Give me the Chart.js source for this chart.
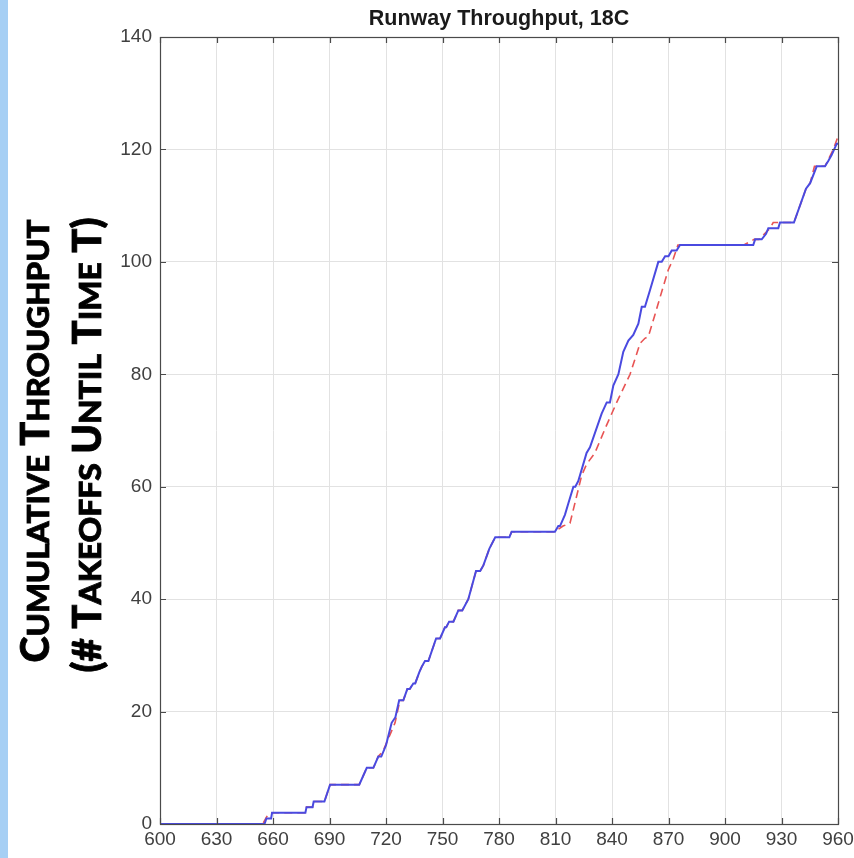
<!DOCTYPE html>
<html>
<head>
<meta charset="utf-8">
<title>Runway Throughput, 18C</title>
<script src="https://cdn.jsdelivr.net/npm/chart.js@4.4.0/dist/chart.umd.min.js"></script>
<style>
  html, body { margin: 0; padding: 0; background: #ffffff; }
  #wrap { width: 854px; height: 858px; position: relative; }
</style>
</head>
<body>
<div id="wrap"><canvas id="c" width="854" height="858"></canvas></div>
<script>
// Time axis (minutes) and cumulative takeoff counts
const xTicks = [600, 630, 660, 690, 720, 750, 780, 810, 840, 870, 900, 930, 960];
const yTicks = [0, 20, 40, 60, 80, 100, 120, 140];

// Observed cumulative throughput (solid blue)
const actualTime = [600, 655.5, 656.5, 659, 659.5, 677.2, 677.8, 681, 681.6, 687.3, 690.3, 705.8, 709.8, 713.3,
  715.9, 717.5, 720, 723, 725, 727, 729.2, 731.3, 732.6, 734.5, 735.5, 737.7, 739, 740.7, 742.5, 746.6, 748.7,
  751.3, 752, 753.5, 755.8, 758.4, 760.5, 763.7, 767.8, 770, 771.7, 774.9, 778, 785.5, 786.7, 809.7, 811.5,
  812.4, 815, 816.8, 819.5, 820.5, 822.1, 826.5, 828.3, 834.5, 837.2, 838.9, 840.7, 843.4, 846, 848.7, 851.3,
  854, 855.8, 857.5, 860.2, 864.6, 866.4, 868.2, 870, 871.7, 874.3, 876.1, 915, 916, 919.5, 921.8, 923, 928.3,
  929.2, 936.6, 943, 945.2, 948.7, 953.1, 954.9, 956.6, 959.3, 960];
const actualCount = [0, 0, 1, 1, 2, 2, 3, 3, 4, 4, 7, 7, 10, 10,
  12, 12, 14, 18, 19, 22, 22, 24, 24, 25, 25, 27, 28, 29, 29, 33, 33,
  35, 35, 36, 36, 38, 38, 40, 45, 45, 46, 49, 51, 51, 52, 52, 53,
  53, 55, 57, 60, 60, 61, 66, 67, 73, 75, 75, 78, 80, 84, 86, 87,
  89, 92, 92, 95, 100, 100, 101, 101, 102, 102, 103, 103, 104, 104, 105, 106, 106,
  107, 107, 113, 114, 117, 117, 118, 119, 121, 121];

// Predicted cumulative throughput (dashed red)
const modelTime = [600, 654.5, 657, 659.5, 677.2, 677.8, 681, 681.6, 687.3, 690.3, 705.8, 709.8, 713.3, 715.9,
  718.5, 721, 724.8, 727.4, 729.2, 731.3, 732.6, 734.5, 735.5, 737.7, 739, 740.7, 742.5, 746.6, 748.7, 751.3,
  752, 753.5, 755.8, 758.4, 760.5, 763.7, 767.8, 770, 771.7, 774.9, 778, 785.5, 786.7, 809.7, 814, 817.7,
  823.9, 826.5, 830.9, 837.2, 842.5, 849.6, 854.9, 857.5, 859.3, 862.8, 866.4, 869.9, 872.6, 875, 910, 915.5,
  918, 921, 924, 925.6, 936.6, 943, 945.2, 947.5, 953.1, 957.5, 960];
const modelCount = [0, 0, 1.5, 2, 2, 3, 3, 4, 4, 7, 7, 10, 10, 12,
  13, 15, 18, 22, 22, 24, 24, 25, 25, 27, 28, 29, 29, 33, 33, 35,
  35, 36, 36, 38, 38, 40, 45, 45, 46, 49, 51, 51, 52, 52, 53, 53.5,
  62, 64, 66, 71, 75, 80, 85.5, 86.4, 86.7, 90.6, 94.7, 98.6, 100.6, 103, 103, 104,
  104, 105, 106, 107, 107, 113, 114, 117, 117, 120, 122.3];

const toPoints = (xs, ys) => xs.map((x, i) => ({ x: x, y: ys[i] }));

const TICK_FONT = { family: "'Liberation Sans', Arial, sans-serif", size: 19 };
const TICK_COLOR = '#404040';
const BOX_COLOR = '#4a4a4a';

// Page background and the pale blue strip on the left edge
const backdrop = {
  id: 'backdrop',
  beforeDraw(chart) {
    const ctx = chart.ctx;
    ctx.save();
    ctx.fillStyle = '#ffffff';
    ctx.fillRect(0, 0, chart.width, chart.height);
    ctx.fillStyle = '#a6cff4';
    ctx.fillRect(0, 0, 8, chart.height);
    ctx.restore();
  }
};

// Axes box with inward tick marks on all four sides
const axesBox = {
  id: 'axesBox',
  afterDraw(chart) {
    const ctx = chart.ctx;
    const a = chart.chartArea;
    const xs = chart.scales.x, ys = chart.scales.y;
    const len = 6;
    ctx.save();
    ctx.strokeStyle = BOX_COLOR;
    ctx.lineWidth = 1.2;
    ctx.beginPath();
    xTicks.forEach(v => {
      const px = Math.round(xs.getPixelForValue(v)) + 0.5;
      ctx.moveTo(px, a.bottom); ctx.lineTo(px, a.bottom - len);
      ctx.moveTo(px, a.top); ctx.lineTo(px, a.top + len);
    });
    yTicks.forEach(v => {
      const py = Math.round(ys.getPixelForValue(v)) + 0.5;
      ctx.moveTo(a.left, py); ctx.lineTo(a.left + len, py);
      ctx.moveTo(a.right, py); ctx.lineTo(a.right - len, py);
    });
    ctx.stroke();
    ctx.strokeRect(Math.round(a.left) + 0.5, Math.round(a.top) + 0.5,
      Math.round(a.right - a.left), Math.round(a.bottom - a.top));
    ctx.restore();
  }
};

// Title and the small-caps vertical axis caption
function smallCapsRuns(text, big, small) {
  const runs = [];
  for (const ch of text) {
    const lower = ch !== ch.toUpperCase();
    const size = lower ? small : big;
    const glyph = ch.toUpperCase();
    const last = runs[runs.length - 1];
    if (last && last.size === size) last.text += glyph;
    else runs.push({ text: glyph, size: size });
  }
  return runs;
}

function drawSmallCapsVertical(ctx, text, baselineX, centerY, big, small, targetLen) {
  const family = "Lato, 'Open Sans', sans-serif";
  const runs = smallCapsRuns(text, big, small);
  let total = 0;
  runs.forEach(r => {
    ctx.font = '900 ' + r.size + 'px ' + family;
    r.w = ctx.measureText(r.text).width;
    total += r.w;
  });
  const sx = targetLen / total;
  ctx.save();
  ctx.translate(baselineX, centerY);
  ctx.rotate(-Math.PI / 2);
  ctx.scale(sx, 1);
  ctx.fillStyle = '#000000';
  ctx.strokeStyle = '#000000';
  ctx.lineWidth = 0.8;
  ctx.textBaseline = 'alphabetic';
  ctx.textAlign = 'left';
  let x = -total / 2;
  runs.forEach(r => {
    ctx.font = '900 ' + r.size + 'px ' + family;
    ctx.fillText(r.text, x, 0);
    ctx.strokeText(r.text, x, 0);
    x += r.w;
  });
  ctx.restore();
}

const captions = {
  id: 'captions',
  afterDraw(chart) {
    const ctx = chart.ctx;
    const a = chart.chartArea;
    ctx.save();
    ctx.fillStyle = '#1a1a1a';
    ctx.font = "bold 21.5px 'Liberation Sans', Arial, sans-serif";
    ctx.textAlign = 'center';
    ctx.textBaseline = 'alphabetic';
    ctx.fillText('Runway Throughput, 18C', (a.left + a.right) / 2, 25);
    ctx.restore();
    drawSmallCapsVertical(ctx, 'Cumulative Throughput', 49, 441, 39, 31, 443);
    drawSmallCapsVertical(ctx, '(# Takeoffs Until Time T)', 101, 445, 39, 31, 455);
  }
};

new Chart(document.getElementById('c'), {
  type: 'line',
  data: {
    datasets: [
      {
        label: 'Actual',
        data: toPoints(actualTime, actualCount),
        borderColor: '#4a4ae0',
        borderWidth: 2,
        pointRadius: 0,
        tension: 0,
        fill: false
      },
      {
        label: 'Predicted',
        data: toPoints(modelTime, modelCount),
        borderColor: '#e85454',
        borderWidth: 1.6,
        borderDash: [8, 5],
        pointRadius: 0,
        tension: 0,
        fill: false
      }
    ]
  },
  options: {
    responsive: false,
    animation: false,
    events: [],
    layout: { padding: { top: 37, right: 16, left: 0, bottom: 0 } },
    plugins: {
      legend: { display: false },
      title: { display: false },
      tooltip: { enabled: false }
    },
    scales: {
      x: {
        type: 'linear',
        min: 600,
        max: 960,
        afterFit(scale) {
          scale.height = 34;
          scale.paddingLeft = 0;
          scale.paddingRight = 0;
        },
        afterBuildTicks(scale) { scale.ticks = xTicks.map(v => ({ value: v })); },
        ticks: {
          autoSkip: false,
          maxRotation: 0,
          padding: 4,
          color: TICK_COLOR,
          font: TICK_FONT
        },
        grid: { color: '#e2e2e2', lineWidth: 1, drawTicks: false },
        border: { display: false }
      },
      y: {
        type: 'linear',
        min: 0,
        max: 140,
        afterFit(scale) {
          scale.width = 160;
          scale.paddingTop = 0;
          scale.paddingBottom = 0;
        },
        afterBuildTicks(scale) { scale.ticks = yTicks.map(v => ({ value: v })); },
        ticks: {
          autoSkip: false,
          padding: 8,
          color: TICK_COLOR,
          font: TICK_FONT
        },
        grid: { color: '#e2e2e2', lineWidth: 1, drawTicks: false },
        border: { display: false }
      }
    }
  },
  plugins: [backdrop, axesBox, captions]
});
</script>
</body>
</html>
